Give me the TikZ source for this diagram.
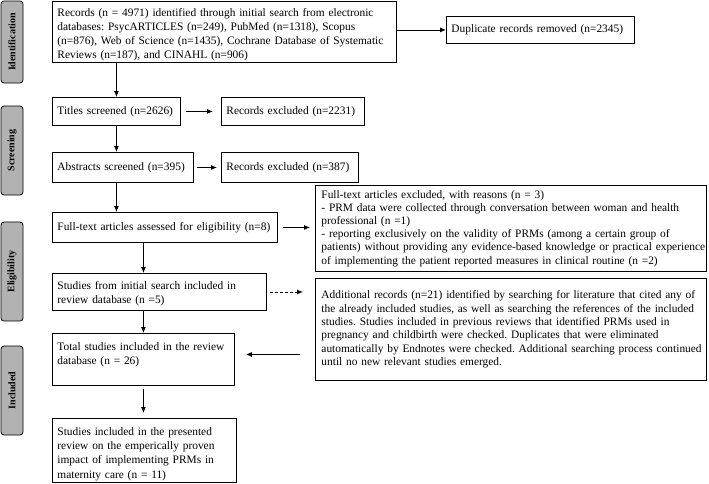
\documentclass[tikz,border=0pt]{standalone}
\usepackage{fontspec}
\setmainfont{Liberation Serif}
\usetikzlibrary{arrows.meta}
\frenchspacing

\tikzset{
  box/.style={draw, line width=0.9pt, anchor=north west, align=left,
    inner xsep=5pt, inner ysep=2pt, font=\fontsize{11.4}{13.8}\selectfont},
  phase/.style={draw, line width=0.8pt, fill=black!30, rounded corners=3pt,
    rotate=90, minimum height=22pt, inner sep=0pt,
    font=\fontsize{10}{12}\selectfont\bfseries},
  arr/.style={-{Latex[length=6pt,width=5pt]}, line width=0.9pt},
}

\begin{document}
\begin{tikzpicture}[x=1pt,y=-1pt]
\useasboundingbox (0,0) rectangle (709,483);

% phases on the left
\node [phase, minimum width=82pt] (ident) at (12,42)    {Identification};
\node [phase, minimum width=89pt] (scree) at (12,150.5) {Screening};
\node [phase, minimum width=99pt] (elig)  at (12,271.5) {Eligibility};
\node [phase, minimum width=89pt] (incl)  at (12,390.5) {Included};

% identification
\node [box, minimum width=344pt, text width=334pt, inner ysep=0pt,
  text height=16pt, text depth=45pt, font=\fontsize{11.4}{14}\selectfont] (rec) at (52,0.5)
  {\mbox{Records (n = 4971) identified through initial search from electronic}\\
   \mbox{databases: PsycARTICLES (n=249), PubMed (n=1318), Scopus}\\
   \mbox{(n=876), Web of Science (n=1435), Cochrane Database of Systematic}\\
   Reviews (n=187), and CINAHL (n=906)};
\node [box, minimum width=188pt, minimum height=27pt, text width=178pt] (dup) at (446,16)
  {Duplicate records removed (n=2345)};

% screening
\node [box, minimum width=128pt, minimum height=28pt, text width=118pt] (tit) at (52,97)
  {\mbox{Titles screened (n=2626)}};
\node [box, minimum width=143pt, minimum height=28pt, text width=133pt] (exa) at (221,97)
  {Records excluded (n=2231)};
\node [box, minimum width=141pt, minimum height=30pt, text width=131pt] (abs) at (52,152)
  {\mbox{Abstracts screened (n=395)}};
\node [box, minimum width=137pt, minimum height=30pt, text width=127pt] (exb) at (221,152)
  {\mbox{Records excluded (n=387)}};

% eligibility
\node [box, minimum width=225pt, minimum height=30pt, text width=215pt] (ft) at (52,212)
  {Full-text articles assessed for eligibility (n=8)};
\node [box, minimum width=391pt, minimum height=86pt, text width=379pt, inner xsep=6pt,
  font=\fontsize{11.4}{13.2}\selectfont] (ftex) at (315,185)
  {Full-text articles excluded, with reasons (n = 3)\\
   \mbox{- PRM data were collected through conversation between woman and health}\\
   professional (n =1)\\
   \mbox{- reporting exclusively on the validity of PRMs (among a certain group of}\\
   \mbox{patients) without providing any evidence-based knowledge or practical experience}\\
   \mbox{of implementing the patient reported measures in clinical routine (n =2)}};
\node [box, minimum width=214pt, text width=204pt, inner ysep=0pt,
  text height=16pt, text depth=21pt] (stud) at (52,273)
  {Studies from initial search included in\\ review database (n =5)};
\node [box, minimum width=391pt, minimum height=102pt, text width=379pt, inner xsep=6pt,
  font=\fontsize{11.4}{13.4}\selectfont] (add) at (315,278)
  {\mbox{Additional records (n=21) identified by searching for literature that cited any of}\\
   \mbox{the already included studies, as well as searching the references of the included}\\
   \mbox{studies. Studies included in previous reviews that identified PRMs used in}\\
   \mbox{pregnancy and childbirth were checked. Duplicates that were eliminated}\\
   \mbox{automatically by Endnotes were checked. Additional searching process continued}\\
   until no new relevant studies emerged.};

% included
\node [box, minimum width=182pt, text width=172pt, inner ysep=0pt,
  text height=17pt, text depth=35pt] (tot) at (52,333)
  {\mbox{Total studies included in the review}\\ database (n = 26)};
\node [box, minimum width=184pt, text width=174pt, inner ysep=0pt,
  text height=17pt, text depth=47pt, font=\fontsize{11.4}{14.2}\selectfont] (fin) at (52,418)
  {Studies included in the presented\\ review on the emperically proven\\
   impact of implementing PRMs in\\ maternity care (n = 11)};

% connectors
\draw [arr] (rec.east |- dup.west) -- (dup.west);
\draw [arr] (rec.south -| tit.north) -- (tit.north);
\draw [arr, shorten <=5pt, shorten >=8pt] (tit.east) -- (exa.west);
\draw [arr] (tit.south) -- (abs.north -| tit.south);
\draw [arr, shorten <=3pt, shorten >=4pt] (abs.east) -- (exb.west);
\draw [arr] (abs.south -| tit.south) -- (ft.north -| tit.south);
\draw [arr, shorten <=5pt, shorten >=5pt] (ft.east) -- (ft.east -| ftex.west);
\draw [arr] (ft.south -| tot.north) -- (stud.north -| tot.north);
\draw [arr] (stud.south -| tot.north) -- (tot.north);
\draw [arr, dash pattern=on 3pt off 2pt, shorten <=3pt, shorten >=12pt] (stud.east) -- (stud.east -| add.west);
\coordinate (totin) at ([yshift=5pt]tot.east);
\draw [arr, shorten <=15pt, shorten >=11pt] (add.west |- totin) -- (totin);
\draw [arr, shorten <=3pt, shorten >=5pt] (tot.south) -- (fin.north -| tot.south);

\end{tikzpicture}
\end{document}
